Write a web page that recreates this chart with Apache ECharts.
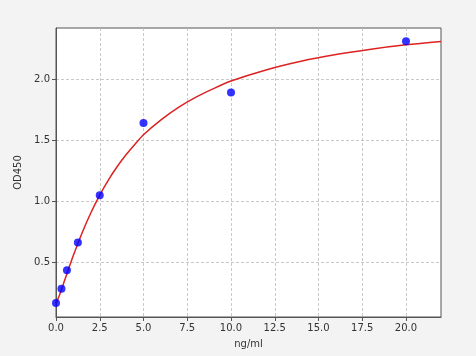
<!DOCTYPE html>
<html><head><meta charset="utf-8">
<script src="https://cdn.jsdelivr.net/npm/echarts@6/dist/echarts.min.js"></script>
<style>html,body{margin:0;padding:0;background:#f3f3f3}#c{width:476px;height:356px}</style>
</head><body><div id="c"></div>
<script>
// measured standard points
const concX = [0, 0.3125, 0.625, 1.25, 2.5, 5, 10, 20];
const odY = [0.164, 0.281, 0.434, 0.661, 1.049, 1.64, 1.891, 2.311];
// fitted curve
const curveX = [0, 0.25, 0.5, 0.75, 1, 1.5, 2, 2.5, 3, 3.5, 4, 4.5, 5, 6, 7, 8, 9, 10, 12, 14, 16, 18, 20, 22];
const curveY = [0.16, 0.249, 0.353, 0.457, 0.558, 0.743, 0.907, 1.05, 1.175, 1.284, 1.38, 1.465, 1.545, 1.667, 1.769, 1.853, 1.923, 1.985, 2.076, 2.147, 2.202, 2.246, 2.282, 2.31];
const xTicks = [0, 2.5, 5, 7.5, 10, 12.5, 15, 17.5, 20];
const yTicks = [0.5, 1.0, 1.5, 2.0];

const chart = echarts.init(document.getElementById('c'));
const lbl = {fontFamily: 'DejaVu Sans', fontSize: 10, color: '#333'};
chart.setOption({
  backgroundColor: '#f3f3f3',
  animation: false,
  grid: {left: 56, right: 35, top: 28, bottom: 39, show: true, backgroundColor: '#fff', borderColor: '#555', borderWidth: 1},
  xAxis: {
    type: 'value', min: 0, max: 22, interval: 2.5,
    name: 'ng/ml', nameLocation: 'middle', nameGap: 22,
    nameTextStyle: {fontFamily: 'DejaVu Sans', fontSize: 10, color: '#333'},
    axisLine: {show: true, lineStyle: {color: '#555'}},
    axisTick: {show: true, length: 4, lineStyle: {color: '#555'}, customValues: xTicks},
    axisLabel: Object.assign({margin: 6, customValues: xTicks, formatter: v => v.toFixed(1)}, lbl),
    splitLine: {show: true, lineStyle: {color: '#bbb', type: [3, 2], width: 0.8}}
  },
  yAxis: {
    type: 'value', min: 0.05, max: 2.42,
    name: 'OD450', nameLocation: 'middle', nameGap: 27,
    nameTextStyle: {fontFamily: 'DejaVu Sans', fontSize: 10, color: '#333'},
    axisLine: {show: true, lineStyle: {color: '#555'}},
    axisTick: {show: true, length: 4, lineStyle: {color: '#555'}, customValues: yTicks},
    axisLabel: Object.assign({margin: 6, customValues: yTicks, formatter: v => v.toFixed(1)}, lbl),
    splitLine: {show: true, lineStyle: {color: '#bbb', type: [3, 2], width: 0.8}}
  },
  series: [
    {type: 'line', data: curveX.map((x, i) => [x, curveY[i]]), smooth: 0.3, showSymbol: false,
     lineStyle: {color: '#dd2222', width: 1.5}, z: 2, clip: true},
    {type: 'scatter', data: concX.map((x, i) => [x, odY[i]]), symbolSize: 8,
     itemStyle: {color: '#0000ff'}, z: 3, clip: false}
  ]
});
</script></body></html>
